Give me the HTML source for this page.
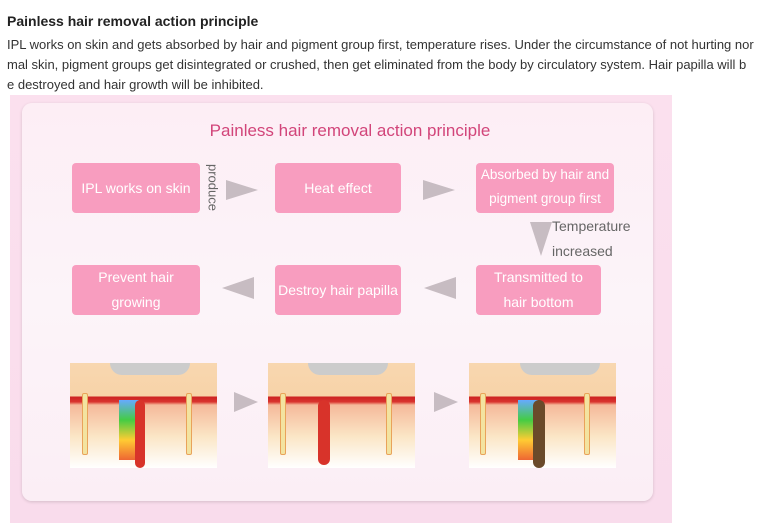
<!DOCTYPE html>
<html><head><meta charset="utf-8"><style>
body{margin:0;width:768px;height:523px;background:#fff;font-family:"Liberation Sans",sans-serif;position:relative;overflow:hidden}
.a{position:absolute}
.t{left:7px;top:13px;font-weight:bold;font-size:14px;color:#222}
.p{left:7px;font-size:13px;color:#333;white-space:nowrap}
.bg{left:10px;top:95px;width:662px;height:428px;background:linear-gradient(#fbe0ee,#f9dcec)}
.card{left:22px;top:103px;width:631px;height:398px;border-radius:10px;background:linear-gradient(#fdeef5,#fcf4f9 50%,#fbeef5);box-shadow:0 1px 3px rgba(0,0,0,.15)}
.h{left:0;width:700px;top:121px;text-align:center;font-size:17px;color:#d2457a}
.b{background:#f89dbf;border-radius:4px;color:#fff;font-size:14px;display:flex;align-items:center;justify-content:center;text-align:center;line-height:25px}
.ar{width:0;height:0}
.r{border-top:10px solid transparent;border-bottom:10px solid transparent;border-left:32px solid #c7bcc2}
.l{border-top:11px solid transparent;border-bottom:11px solid transparent;border-right:32px solid #c7bcc2}
.img{width:147px;height:105px;background:linear-gradient(#f8d7b0 0,#f7d3a8 32%,#c22 32%,#d9342e 37%,#f5b99a 40%,#fbe6c6 70%,#fff 100%)}
.hair{width:4px;height:60px;background:#f3e3a0;border-radius:2px;border:1px solid #e9a35a}
</style></head><body>
<div class="a t">Painless hair removal action principle</div>
<div class="a p" style="top:37px">IPL works on skin and gets absorbed by hair and pigment group first, temperature rises. Under the circumstance of not hurting nor</div>
<div class="a p" style="top:57px">mal skin, pigment groups get disintegrated or crushed, then get eliminated from the body by circulatory system. Hair papilla will b</div>
<div class="a p" style="top:77px">e destroyed and hair growth will be inhibited.</div>
<div class="a bg"></div>
<div class="a card"></div>
<div class="a h">Painless hair removal action principle</div>
<div class="a b" style="left:72px;top:163px;width:128px;height:50px">IPL works on skin</div>
<div class="a b" style="left:275px;top:163px;width:126px;height:50px">Heat effect</div>
<div class="a b" style="left:476px;top:163px;width:138px;height:50px;align-items:flex-start;line-height:24px;font-size:13.5px">Absorbed by hair and<br>pigment group first</div>
<div class="a b" style="left:72px;top:265px;width:128px;height:50px;align-items:flex-start;line-height:25px">Prevent hair<br>growing</div>
<div class="a b" style="left:275px;top:265px;width:126px;height:50px">Destroy hair papilla</div>
<div class="a b" style="left:476px;top:265px;width:125px;height:50px;align-items:flex-start;line-height:25px">Transmitted to<br>hair bottom</div>
<div class="a" style="left:188px;top:180px;font-size:13px;color:#666;transform:rotate(90deg);transform-origin:center;width:50px;text-align:center">produce</div>
<div class="a ar r" style="left:226px;top:180px"></div>
<div class="a ar r" style="left:423px;top:180px"></div>
<div class="a ar" style="left:530px;top:222px;border-left:11px solid transparent;border-right:11px solid transparent;border-top:34px solid #c7bcc2"></div>
<div class="a" style="left:552px;top:214px;font-size:14px;color:#666;line-height:25px">Temperature<br>increased</div>
<div class="a ar l" style="left:222px;top:277px"></div>
<div class="a ar l" style="left:424px;top:277px"></div>
<div class="a img" style="left:70px;top:363px"></div>
<div class="a img" style="left:268px;top:363px"></div>
<div class="a img" style="left:469px;top:363px"></div>
<div class="a hair" style="left:82px;top:393px"></div>
<div class="a hair" style="left:186px;top:393px"></div>
<div class="a hair" style="left:280px;top:393px"></div>
<div class="a hair" style="left:386px;top:393px"></div>
<div class="a hair" style="left:480px;top:393px"></div>
<div class="a hair" style="left:584px;top:393px"></div>
<div class="a" style="left:119px;top:400px;width:20px;height:60px;background:linear-gradient(#6af,#4c4,#fc3,#e63)"></div>
<div class="a" style="left:518px;top:400px;width:20px;height:60px;background:linear-gradient(#6af,#4c4,#fc3,#e63)"></div>
<div class="a" style="left:135px;top:400px;width:10px;height:68px;background:#d8332a;border-radius:5px"></div>
<div class="a" style="left:318px;top:400px;width:12px;height:65px;background:#d8332a;border-radius:6px"></div>
<div class="a" style="left:533px;top:400px;width:12px;height:68px;background:#6a4a2a;border-radius:6px"></div>
<div class="a" style="left:110px;top:363px;width:80px;height:12px;background:#ccc;border-radius:0 0 30px 30px"></div>
<div class="a" style="left:308px;top:363px;width:80px;height:12px;background:#ccc;border-radius:0 0 30px 30px"></div>
<div class="a" style="left:520px;top:363px;width:80px;height:12px;background:#ccc;border-radius:0 0 30px 30px"></div>
<div class="a ar r" style="left:234px;top:392px;border-left-width:24px"></div>
<div class="a ar r" style="left:434px;top:392px;border-left-width:24px"></div>
</body></html>
